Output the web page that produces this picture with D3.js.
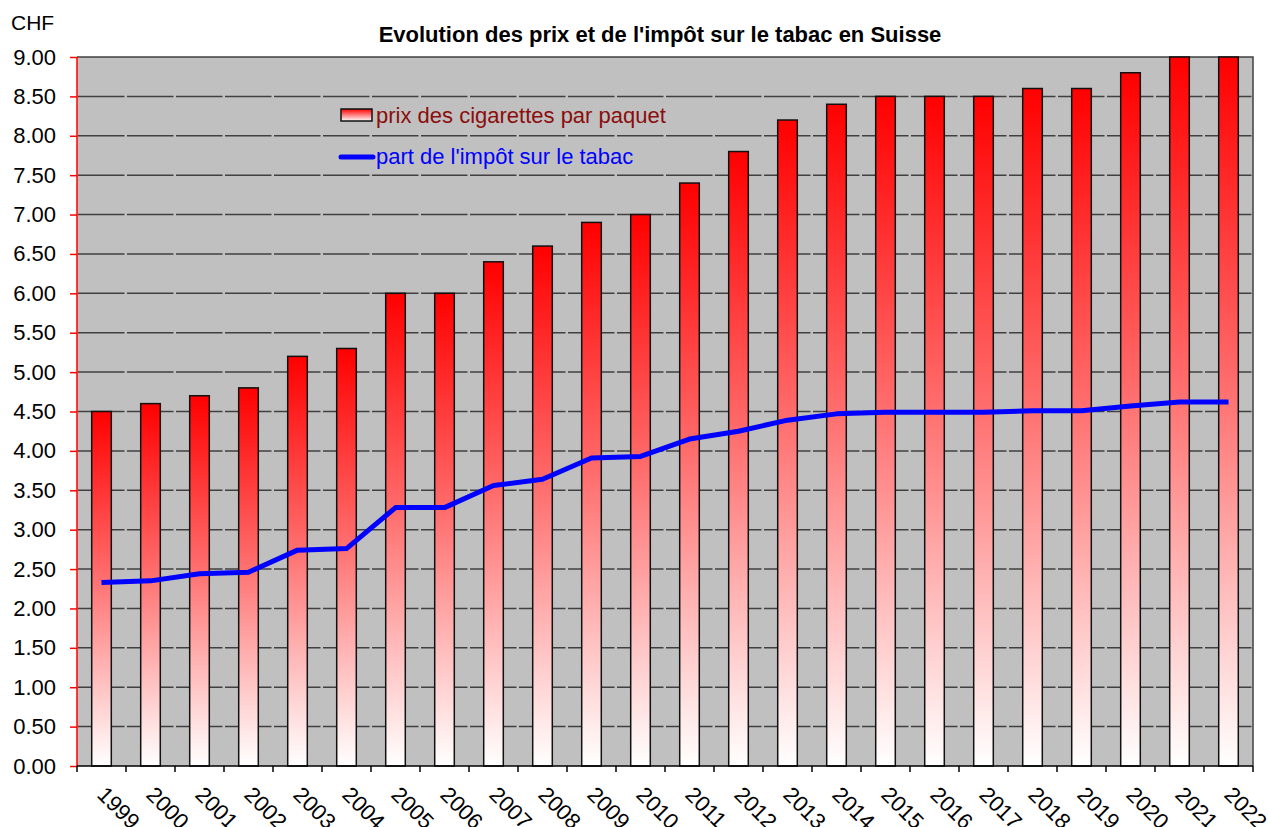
<!DOCTYPE html>
<html><head><meta charset="utf-8">
<script src="https://cdn.jsdelivr.net/npm/d3@7"></script>
<style>body{margin:0;background:#fff;}svg{display:block;font-family:"Liberation Sans",Arial,sans-serif;}</style>
</head><body>
<svg id="c" width="1269" height="827"></svg>
<script>
const years = ["1999","2000","2001","2002","2003","2004","2005","2006","2007","2008","2009","2010","2011","2012","2013","2014","2015","2016","2017","2018","2019","2020","2021","2022"];
const prices = [4.5,4.6,4.7,4.8,5.2,5.3,6.0,6.0,6.4,6.6,6.9,7.0,7.4,7.8,8.2,8.4,8.5,8.5,8.5,8.6,8.6,8.8,9.0,9.0];
const tax = [2.33,2.35,2.44,2.46,2.74,2.76,3.28,3.28,3.56,3.64,3.91,3.93,4.15,4.25,4.39,4.47,4.49,4.49,4.49,4.51,4.51,4.57,4.62,4.62];
const yTicks = [0,0.5,1,1.5,2,2.5,3,3.5,4,4.5,5,5.5,6,6.5,7,7.5,8,8.5,9];
const title = "Evolution des prix et de l'impôt sur le tabac en Suisse";
const legendLabels = ["prix des cigarettes par paquet","part de l'impôt sur le tabac"];

const svg = d3.select("#c");
const L=77,R=1253,T=57,B=766;
const x = d3.scaleBand().domain(years).range([L,R]).paddingInner(0.6).paddingOuter(0.3);
const xb = d3.scaleBand().domain(years).range([L,R]);
const y = d3.scaleLinear().domain([0,9]).range([B,T]);

const defs = svg.append("defs");
const g = defs.append("linearGradient").attr("id","bg").attr("x1",0).attr("y1",0).attr("x2",0).attr("y2",1);
g.append("stop").attr("offset","0%").attr("stop-color","#ff0000");
g.append("stop").attr("offset","45%").attr("stop-color","#ff6a6a");
g.append("stop").attr("offset","100%").attr("stop-color","#ffffff");
const lg = defs.append("linearGradient").attr("id","lg").attr("x1",0).attr("y1",0).attr("x2",0).attr("y2",1);
lg.append("stop").attr("offset","0%").attr("stop-color","#ff0000");
lg.append("stop").attr("offset","100%").attr("stop-color","#ffffff");

// plot background
svg.append("rect").attr("x",L).attr("y",T).attr("width",R-L).attr("height",B-T).attr("fill","#c0c0c0");

// grid
svg.append("g").selectAll("line").data(yTicks.filter(d=>d>0 && d<9)).join("line")
  .attr("x1",L).attr("x2",R).attr("y1",d=>y(d)).attr("y2",d=>y(d))
  .attr("stroke","#404040").attr("stroke-width",1.5).attr("stroke-dasharray","46.5,2.5").attr("stroke-dashoffset",-1);
// border top/right
svg.append("path").attr("d",`M${L},${T}H${R}V${B}`).attr("fill","none").attr("stroke","#404040").attr("stroke-width",1.5);

// bars
svg.append("g").selectAll("rect").data(years).join("rect")
  .attr("x",d=>x(d)).attr("width",x.bandwidth())
  .attr("y",(d,i)=>y(prices[i])).attr("height",(d,i)=>B-y(prices[i]))
  .attr("fill","url(#bg)").attr("stroke","#111").attr("stroke-width",1.5);

// line
const line = d3.line().x((d,i)=>x(years[i])+x.bandwidth()/2).y(d=>y(d));
svg.append("path").datum(tax).attr("d",line).attr("fill","none").attr("stroke","#0000ff").attr("stroke-width",5).attr("stroke-linejoin","round");

// y axis
const ya = svg.append("g").attr("transform",`translate(${L},0)`).call(d3.axisLeft(y).tickValues(yTicks).tickFormat(d3.format(".2f")).tickSize(7).tickPadding(14));
ya.select(".domain").attr("stroke","#ff0000").attr("stroke-width",1.5).attr("d",`M0,${T}V${B}`);
ya.selectAll(".tick line").attr("stroke","#ff0000").attr("stroke-width",1.5);
ya.selectAll(".tick text").attr("font-size",22).attr("fill","#000").attr("font-family","Liberation Sans, Arial, sans-serif");

// x axis
const xa = svg.append("g").attr("transform",`translate(0,${B})`);
xa.append("line").attr("x1",L).attr("x2",R).attr("stroke","#000").attr("stroke-width",1.5);
xa.selectAll("line.t").data(years.concat(["end"])).join("line").attr("class","t")
  .attr("x1",(d,i)=>i<years.length?xb(d):R).attr("x2",(d,i)=>i<years.length?xb(d):R)
  .attr("y1",0).attr("y2",6).attr("stroke","#000").attr("stroke-width",1.5);
xa.selectAll("text").data(years).join("text")
  .attr("transform",d=>`translate(${xb(d)+xb.bandwidth()/2-5.5},${30}) rotate(45)`)
  .attr("font-size",22).attr("text-anchor","start").text(d=>d);

// title & unit
svg.append("text").attr("x",660).attr("y",42).attr("text-anchor","middle").attr("font-size",22).attr("font-weight","bold").text(title);
svg.append("text").attr("x",11).attr("y",30).attr("font-size",21).text("CHF");

// legend
svg.append("rect").attr("x",341).attr("y",109).attr("width",31).attr("height",12).attr("fill","url(#lg)").attr("stroke","#111").attr("stroke-width",1.5);
svg.append("text").attr("x",376).attr("y",123).attr("font-size",22).attr("fill","#8b0d0d").text(legendLabels[0]);
svg.append("line").attr("x1",341).attr("x2",373).attr("y1",157).attr("y2",157).attr("stroke","#0000ff").attr("stroke-width",5).attr("stroke-linecap","round");
svg.append("text").attr("x",376).attr("y",164).attr("font-size",22).attr("fill","#0000ff").text(legendLabels[1]);
</script>
</body></html>
